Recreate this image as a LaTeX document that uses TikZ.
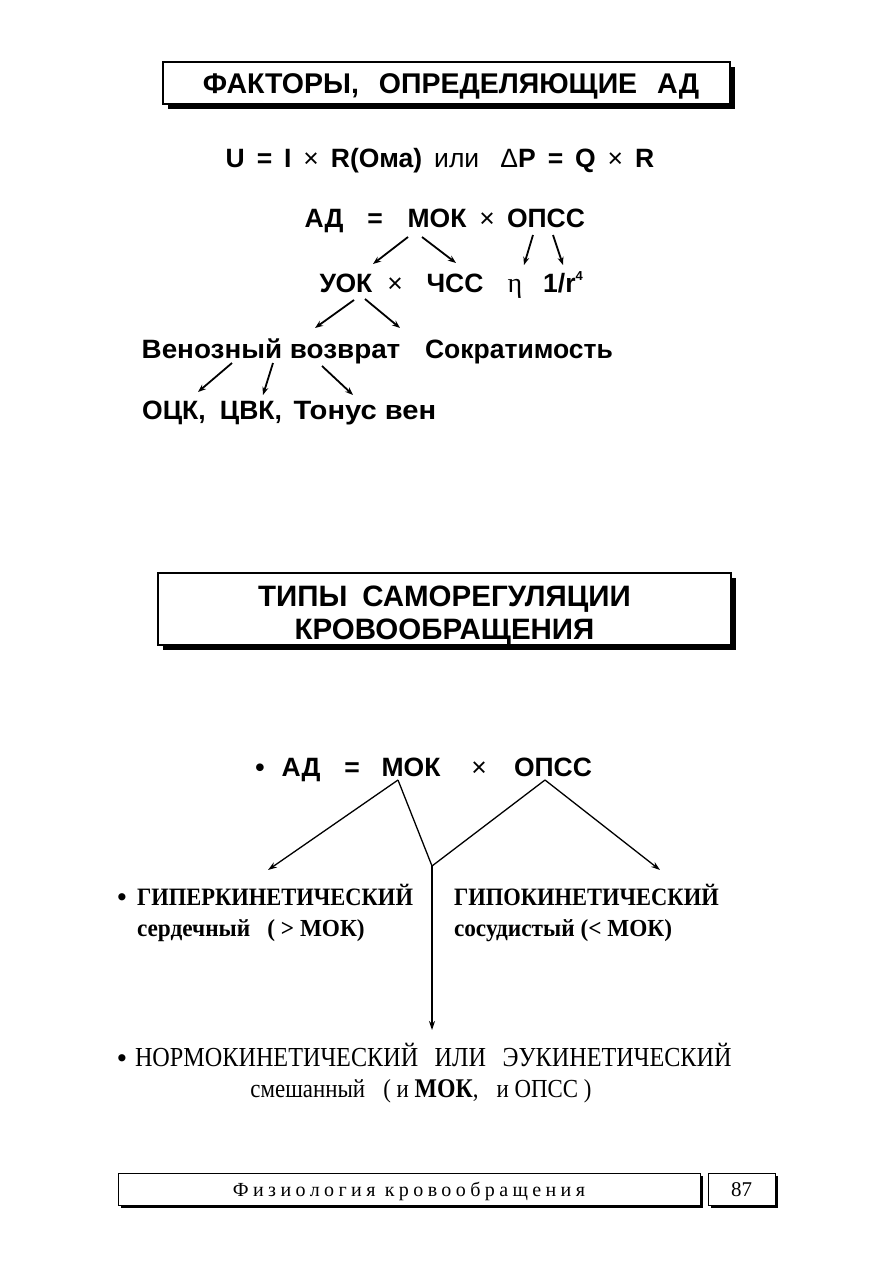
\documentclass[tikz,border=0pt]{standalone}
\usepackage{fontspec}
\setmainfont{Liberation Serif}
\newfontfamily\sans{Liberation Sans}
\newfontfamily\sansw{Liberation Sans}[FakeStretch=1.05]
\newfontfamily\sanswide{Liberation Sans}[FakeStretch=1.1]
\newfontfamily\ser{Liberation Serif}
\newfontfamily\sercond{Liberation Serif}[FakeStretch=0.9]
\newfontfamily\serlow{Liberation Serif}[FakeStretch=0.95]
\newfontfamily\sernarrow{Liberation Serif}[FakeStretch=0.88]
\newfontfamily\serfoot{Liberation Serif}[LetterSpace=22]
\usetikzlibrary{arrows.meta,shadows}
\begin{document}
\begin{tikzpicture}[x=1pt,y=-1pt,
  every node/.style={inner sep=0pt, outer sep=0pt},
  sb/.style={font=\sans\bfseries\fontsize{26.5}{30}\selectfont, anchor=base},
  sm/.style={font=\sans\fontsize{26.5}{30}\selectfont, anchor=base},
  serb/.style={font=\sercond\bfseries\fontsize{25}{28}\selectfont, anchor=base west},
  sersmall/.style={font=\serlow\bfseries\fontsize{24.5}{28}\selectfont, anchor=base west},
  serr/.style={font=\sernarrow\fontsize{27.5}{30}\selectfont, anchor=base west},
  serbul/.style={anchor=base, font=\sans\bfseries\fontsize{25}{28}\selectfont},
  arr/.style={line width=1.8pt, -{Stealth[length=8pt,width=6pt]}},
  tarr/.style={line width=1.3pt, -{Stealth[length=9pt,width=6pt]}},
  tline/.style={line width=1.3pt},
  titlebox/.style={draw, line width=1.6pt, fill=white,
    drop shadow={shadow xshift=5pt, shadow yshift=-5pt, opacity=1, fill=black}},
  footbox/.style={draw, line width=1pt, fill=white,
    drop shadow={shadow xshift=3pt, shadow yshift=-3pt, opacity=1, fill=black}},
]
\fill[white] (0,0) rectangle (893,1263);
\useasboundingbox (0,0) rectangle (893,1263);

% ---------- title 1
\node[titlebox, minimum width=567pt, minimum height=42pt] (t1) at (446.5,83) {};
\node[anchor=base, font=\sans\bfseries\fontsize{28.5}{32}\selectfont] (t1text) at (451,93)
  {ФАКТОРЫ,\hspace{0.7em}ОПРЕДЕЛЯЮЩИЕ\hspace{0.7em}АД};

% ---------- Ohm law
\node[sb] (ohm) at (440,167)
  {\spaceskip=0.45em\relax U = I {\mdseries ×} R(Ома) {\mdseries или}\hspace{0.8em}{\mdseries Δ}P = Q {\mdseries ×} R};

% ---------- row 1
\node[sb] (ad) at (324,227) {АД};
\node[sb] (eq) at (375,227) {=};
\node[sb] (mok) at (437,227) {МОК};
\node[sm] (x1) at (487,227) {×};
\node[sb] (opss) at (546,227) {ОПСС};
% ---------- row 2
\node[sb] (uok) at (346,292) {УОК};
\node[sm] (x2) at (395,292) {×};
\node[sb] (chss) at (455,292) {ЧСС};
\node[anchor=base, font=\ser\fontsize{28}{30}\selectfont] (eta) at (515,292) {η};
\node[sb] (r4) at (563,292) {1/r\raisebox{0.42em}{\fontsize{13}{14}\selectfont 4}};
% ---------- row 3
\node[sb, font=\sansw\bfseries\fontsize{26.5}{30}\selectfont] (ven) at (271,358) {Венозный возврат};
\node[sb] (sokr) at (519,358) {Сократимость};
% ---------- row 4
\node[sb] (ock) at (174,419) {ОЦК,};
\node[sb] (cvk) at (251,419) {ЦВК,};
\node[sb, font=\sanswide\bfseries\fontsize{26.5}{30}\selectfont] (tonus) at (365,419) {Тонус вен};

\draw[arr] ([shift={(-29,10)}]mok.base) -- ([shift={(27,-28)}]uok.base);
\draw[arr] ([shift={(-15,10)}]mok.base) -- ([shift={(1,-29)}]chss.base);
\draw[arr] ([shift={(-13,8)}]opss.base) -- ([shift={(9,-27)}]eta.base);
\draw[arr] ([shift={(7,8)}]opss.base) -- ([shift={(0,-27)}]r4.base);
\draw[arr] ([shift={(8,8)}]uok.base) -- ([shift={(44,-30)}]ven.base);
\draw[arr] ([shift={(19,7)}]uok.base) -- ([shift={(-119,-30)}]sokr.base);
\draw[arr] ([shift={(-39,5)}]ven.base) -- ([shift={(24,-27)}]ock.base);
\draw[arr] ([shift={(2,5)}]ven.base) -- ([shift={(12,-24)}]cvk.base);
\draw[arr] ([shift={(51,8)}]ven.base) -- ([shift={(-12,-24)}]tonus.base);

% ---------- title 2
\node[titlebox, minimum width=573pt, minimum height=72pt] (t2) at (444.5,609) {};
\node[align=center, font=\sans\bfseries\fontsize{29.5}{33}\selectfont] (t2text) at (444.5,616)
  {ТИПЫ\hspace{0.5em}САМОРЕГУЛЯЦИИ\\КРОВООБРАЩЕНИЯ};

% ---------- bottom formula
\node[sb] (bul) at (260,776) {•};
\node[sb] (bad) at (301,776) {АД};
\node[sb] (beq) at (352,776) {=};
\node[sb] (bmok) at (411,776) {МОК};
\node[sm] (bx) at (479,776) {×};
\node[sb] (bopss) at (553,776) {ОПСС};

\node[serbul] (bul1) at (122,905) {•};
\node[serb] (hyper) at (137,905) {ГИПЕРКИНЕТИЧЕСКИЙ};
\node[sersmall] (serd) at (137,936) {сердечный\hspace{0.7em}( > МОК)};
\node[serb] (hypo) at (454,905) {ГИПОКИНЕТИЧЕСКИЙ};
\node[sersmall] (sosud) at (454,936) {сосудистый (< МОК)};

\node[serbul] (bul2) at (122,1066) {•};
\node[serr] (normo) at (135,1066)
  {НОРМОКИНЕТИЧЕСКИЙ\hspace{0.6em}ИЛИ\hspace{0.6em}ЭУКИНЕТИЧЕСКИЙ};
\node[anchor=base, font=\sernarrow\fontsize{26}{28}\selectfont] (smesh) at (421,1097)
  {смешанный\hspace{0.7em}( и {\bfseries\fontsize{27}{28}\selectfont МОК},\hspace{0.7em}и ОПСС )};

\coordinate (j) at (432,866);
\draw[tarr] ([shift={(-13,4)}]bmok.base) -- ([shift={(131,-35)}]hyper.base west);
\draw[tline] ([shift={(-13,4)}]bmok.base) -- (j);
\draw[tline] ([shift={(-8,4)}]bopss.base) -- (j);
\draw[tarr] ([shift={(-8,4)}]bopss.base) -- ([shift={(206,-35)}]hypo.base west);
\draw[tarr] (j) -- ([shift={(297,-36)}]normo.base west);

% ---------- footer
\node[footbox, minimum width=582pt, minimum height=32pt] (foot) at (409,1189) {};
\node[anchor=base, font=\serfoot\fontsize{20}{22}\selectfont] (ftext) at (409,1196) {Физиология кровообращения};
\node[footbox, minimum width=67pt, minimum height=32pt] (page) at (741.5,1189) {};
\node[anchor=base, font=\ser\fontsize{21}{22}\selectfont] (pnum) at (741.5,1196) {87};
\end{tikzpicture}
\end{document}
